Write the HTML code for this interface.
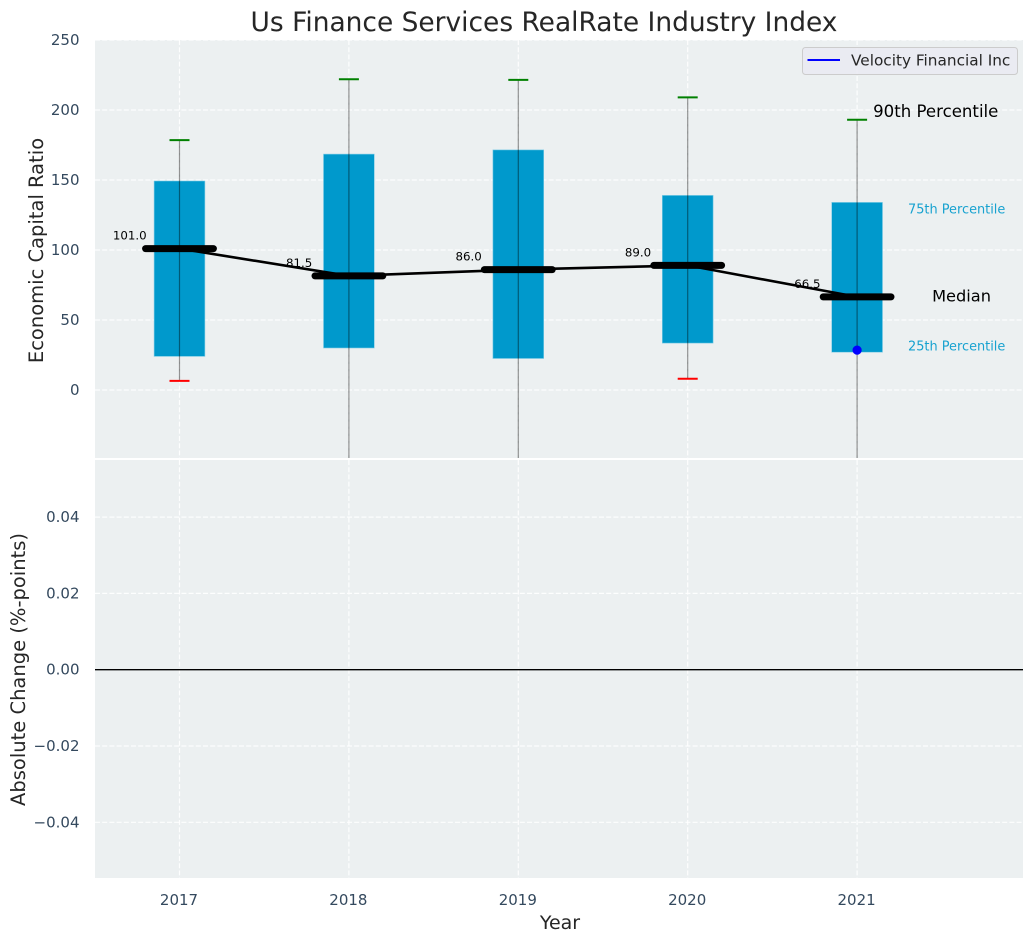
<!DOCTYPE html>
<html lang="en">
<head>
<meta charset="utf-8">
<title>Us Finance Services RealRate Industry Index</title>
<style>
html,body{margin:0;padding:0;background:#fff;}
svg{display:block;}
text{font-family:"DejaVu Sans","Liberation Sans",sans-serif;}
</style>
</head>
<body>
<svg id="chart" xmlns="http://www.w3.org/2000/svg" width="1034" height="942" viewBox="0 0 1034 942"></svg>
<script>
const years = [2017, 2018, 2019, 2020, 2021];
const p90 = [178.5, 222, 221.5, 209, 193];
const p75 = [149.3, 168.5, 171.5, 139, 134];
const medians = [101, 81.5, 86, 89, 66.5];
const p25 = [24, 30, 22.5, 33.5, 27];
const p10 = [6.5, -60, -60, 8, -60];
const medianLabels = ['101.0', '81.5', '86.0', '89.0', '66.5'];
const companyYears = [2021];
const companyValues = [28.5];
const topTicks = [0, 50, 100, 150, 200, 250];
const bottomTicks = [-0.04, -0.02, 0, 0.02, 0.04];
const bottomTickLabels = ['\u22120.04', '\u22120.02', '0.00', '0.02', '0.04'];

const NS = 'http://www.w3.org/2000/svg';
const svg = document.getElementById('chart');
const L = 95, R = 1023, T1 = 40, B1 = 458, T2 = 460, B2 = 878;
const xS = v => 179.5 + (v - 2017) * 169.4;
const yTop = v => 390 - v * 1.4;
const yBot = v => 669.7 - v * 3815;

function make(tag, attrs, parent, txt) {
  const el = document.createElementNS(NS, tag);
  for (const k in attrs) el.setAttribute(k, attrs[k]);
  if (txt !== undefined) el.textContent = txt;
  (parent || svg).appendChild(el);
  return el;
}

const defs = make('defs', {});
const clip = make('clipPath', {id: 'top-clip'}, defs);
make('rect', {x: L, y: T1, width: R - L, height: B1 - T1}, clip);

const topPanel = make('rect', {x: L, y: T1, width: R - L, height: B1 - T1, fill: '#ECF0F1'});


const botPanel = make('rect', {x: L, y: T2, width: R - L, height: B2 - T2, fill: '#ECF0F1'});



const grid = make('g', {stroke: '#fff', 'stroke-width': 1.2, 'stroke-dasharray': '5 2.2', 'stroke-opacity': 0.9});


years.forEach(y => {
  make('line', {x1: xS(y), x2: xS(y), y1: T1, y2: B1}, grid);
  make('line', {x1: xS(y), x2: xS(y), y1: T2, y2: B2}, grid);
});
topTicks.forEach(v => make('line', {x1: L, x2: R, y1: yTop(v), y2: yTop(v)}, grid));
bottomTicks.forEach(v => make('line', {x1: L, x2: R, y1: yBot(v), y2: yBot(v)}, grid));

const ticks = make('g', {fill: '#34495E', 'font-size': 15});


topTicks.forEach(v => {
  const t = make('text', {x: 79.5, y: yTop(v) + 5, 'text-anchor': 'end'}, ticks, String(v));
  
  
});
bottomTicks.forEach((v, i) => {
  const t = make('text', {x: 79.5, y: yBot(v) + 5, 'text-anchor': 'end'}, ticks, bottomTickLabels[i]);
  
  
});
years.forEach(y => {
  const t = make('text', {x: xS(y) - 0.5, y: 905, 'text-anchor': 'middle'}, ticks, String(y));
  
  
});

const plot = make('g', {'clip-path': 'url(#top-clip)'});



years.forEach((y, i) => {
  const x = xS(y);
  const box = make('rect', {
    x: x - 25.4, width: 50.8, y: yTop(p75[i]), height: yTop(p25[i]) - yTop(p75[i]),
    fill: '#0099CC', stroke: '#7FCCE5', 'stroke-width': 0.6
  }, plot);
  
  
});
years.forEach((y, i) => {
  const x = xS(y);
  const w = make('line', {x1: x, x2: x, y1: yTop(p90[i]), y2: yTop(p10[i]), stroke: '#000', 'stroke-opacity': 0.42, 'stroke-width': 1.2}, plot);
  
  
  const hi = make('line', {x1: x - 10, x2: x + 10, y1: yTop(p90[i]), y2: yTop(p90[i]), stroke: '#008000', 'stroke-width': 2}, plot);
  
  
  const lo = make('line', {x1: x - 10, x2: x + 10, y1: yTop(p10[i]), y2: yTop(p10[i]), stroke: '#FF0000', 'stroke-width': 2}, plot);
  
  
});
years.forEach((y, i) => {
  const lab = make('text', {x: xS(y) - 49.7, y: yTop(medians[i]) - 9, 'text-anchor': 'middle', 'font-size': 11.8, fill: '#000'}, plot, medianLabels[i]);
  
  
});
const pts = years.map((y, i) => xS(y) + ',' + yTop(medians[i])).join(' ');
const medLine = make('polyline', {points: pts, fill: 'none', stroke: '#000', 'stroke-width': 2.6}, plot);


years.forEach((y, i) => {
  const x = xS(y);
  const m = make('line', {x1: x - 33.9, x2: x + 33.9, y1: yTop(medians[i]), y2: yTop(medians[i]), stroke: '#000', 'stroke-width': 7, 'stroke-linecap': 'round'}, plot);
  
  
});
companyYears.forEach((y, i) => {
  const c = make('circle', {cx: xS(y), cy: yTop(companyValues[i]), r: 4.6, fill: '#0000FF'}, plot);
  
  
});

const zero = make('line', {x1: L, x2: R, y1: yBot(0), y2: yBot(0), stroke: '#000', 'stroke-width': 1.3});



const last = years.length - 1;
const a90 = make('text', {x: xS(years[last]) + 16, y: yTop(p90[last]) - 3, 'font-size': 16.6, fill: '#000'}, svg, '90th Percentile');


const aMed = make('text', {x: xS(years[last]) + 75, y: yTop(medians[last]) + 4.8, 'font-size': 16.2, fill: '#000'}, svg, 'Median');


const a75 = make('text', {x: 908, y: 213.4, 'font-size': 12.9, fill: '#0099CC', 'fill-opacity': 0.9}, svg, '75th Percentile');


const a25 = make('text', {x: 908, y: 350.4, 'font-size': 12.9, fill: '#0099CC', 'fill-opacity': 0.9}, svg, '25th Percentile');



const legend = make('g', {});


make('rect', {x: 802.5, y: 47.5, width: 215, height: 27, rx: 3, fill: '#EAEAF2', 'fill-opacity': 0.85, stroke: '#CCCCCC'}, legend);
const legendLine = make('line', {x1: 807.5, x2: 840, y1: 60, y2: 60, stroke: '#0000FF', 'stroke-width': 2}, legend);


const legendText = make('text', {x: 851, y: 65.5, 'font-size': 15.3, fill: '#262626'}, legend, 'Velocity Financial Inc');



const title = make('text', {x: 544, y: 31, 'text-anchor': 'middle', 'font-size': 26.45, fill: '#262626'}, svg, 'Us Finance Services RealRate Industry Index');


const xTitle = make('text', {x: 560, y: 929, 'text-anchor': 'middle', 'font-size': 19, fill: '#262626'}, svg, 'Year');


const yTitle1 = make('text', {transform: 'translate(43,250.5) rotate(-90)', 'text-anchor': 'middle', 'font-size': 19.5, fill: '#262626'}, svg, 'Economic Capital Ratio');


const yTitle2 = make('text', {transform: 'translate(25,669.5) rotate(-90)', 'text-anchor': 'middle', 'font-size': 19.5, fill: '#262626'}, svg, 'Absolute Change (%-points)');


</script>
</body>
</html>
